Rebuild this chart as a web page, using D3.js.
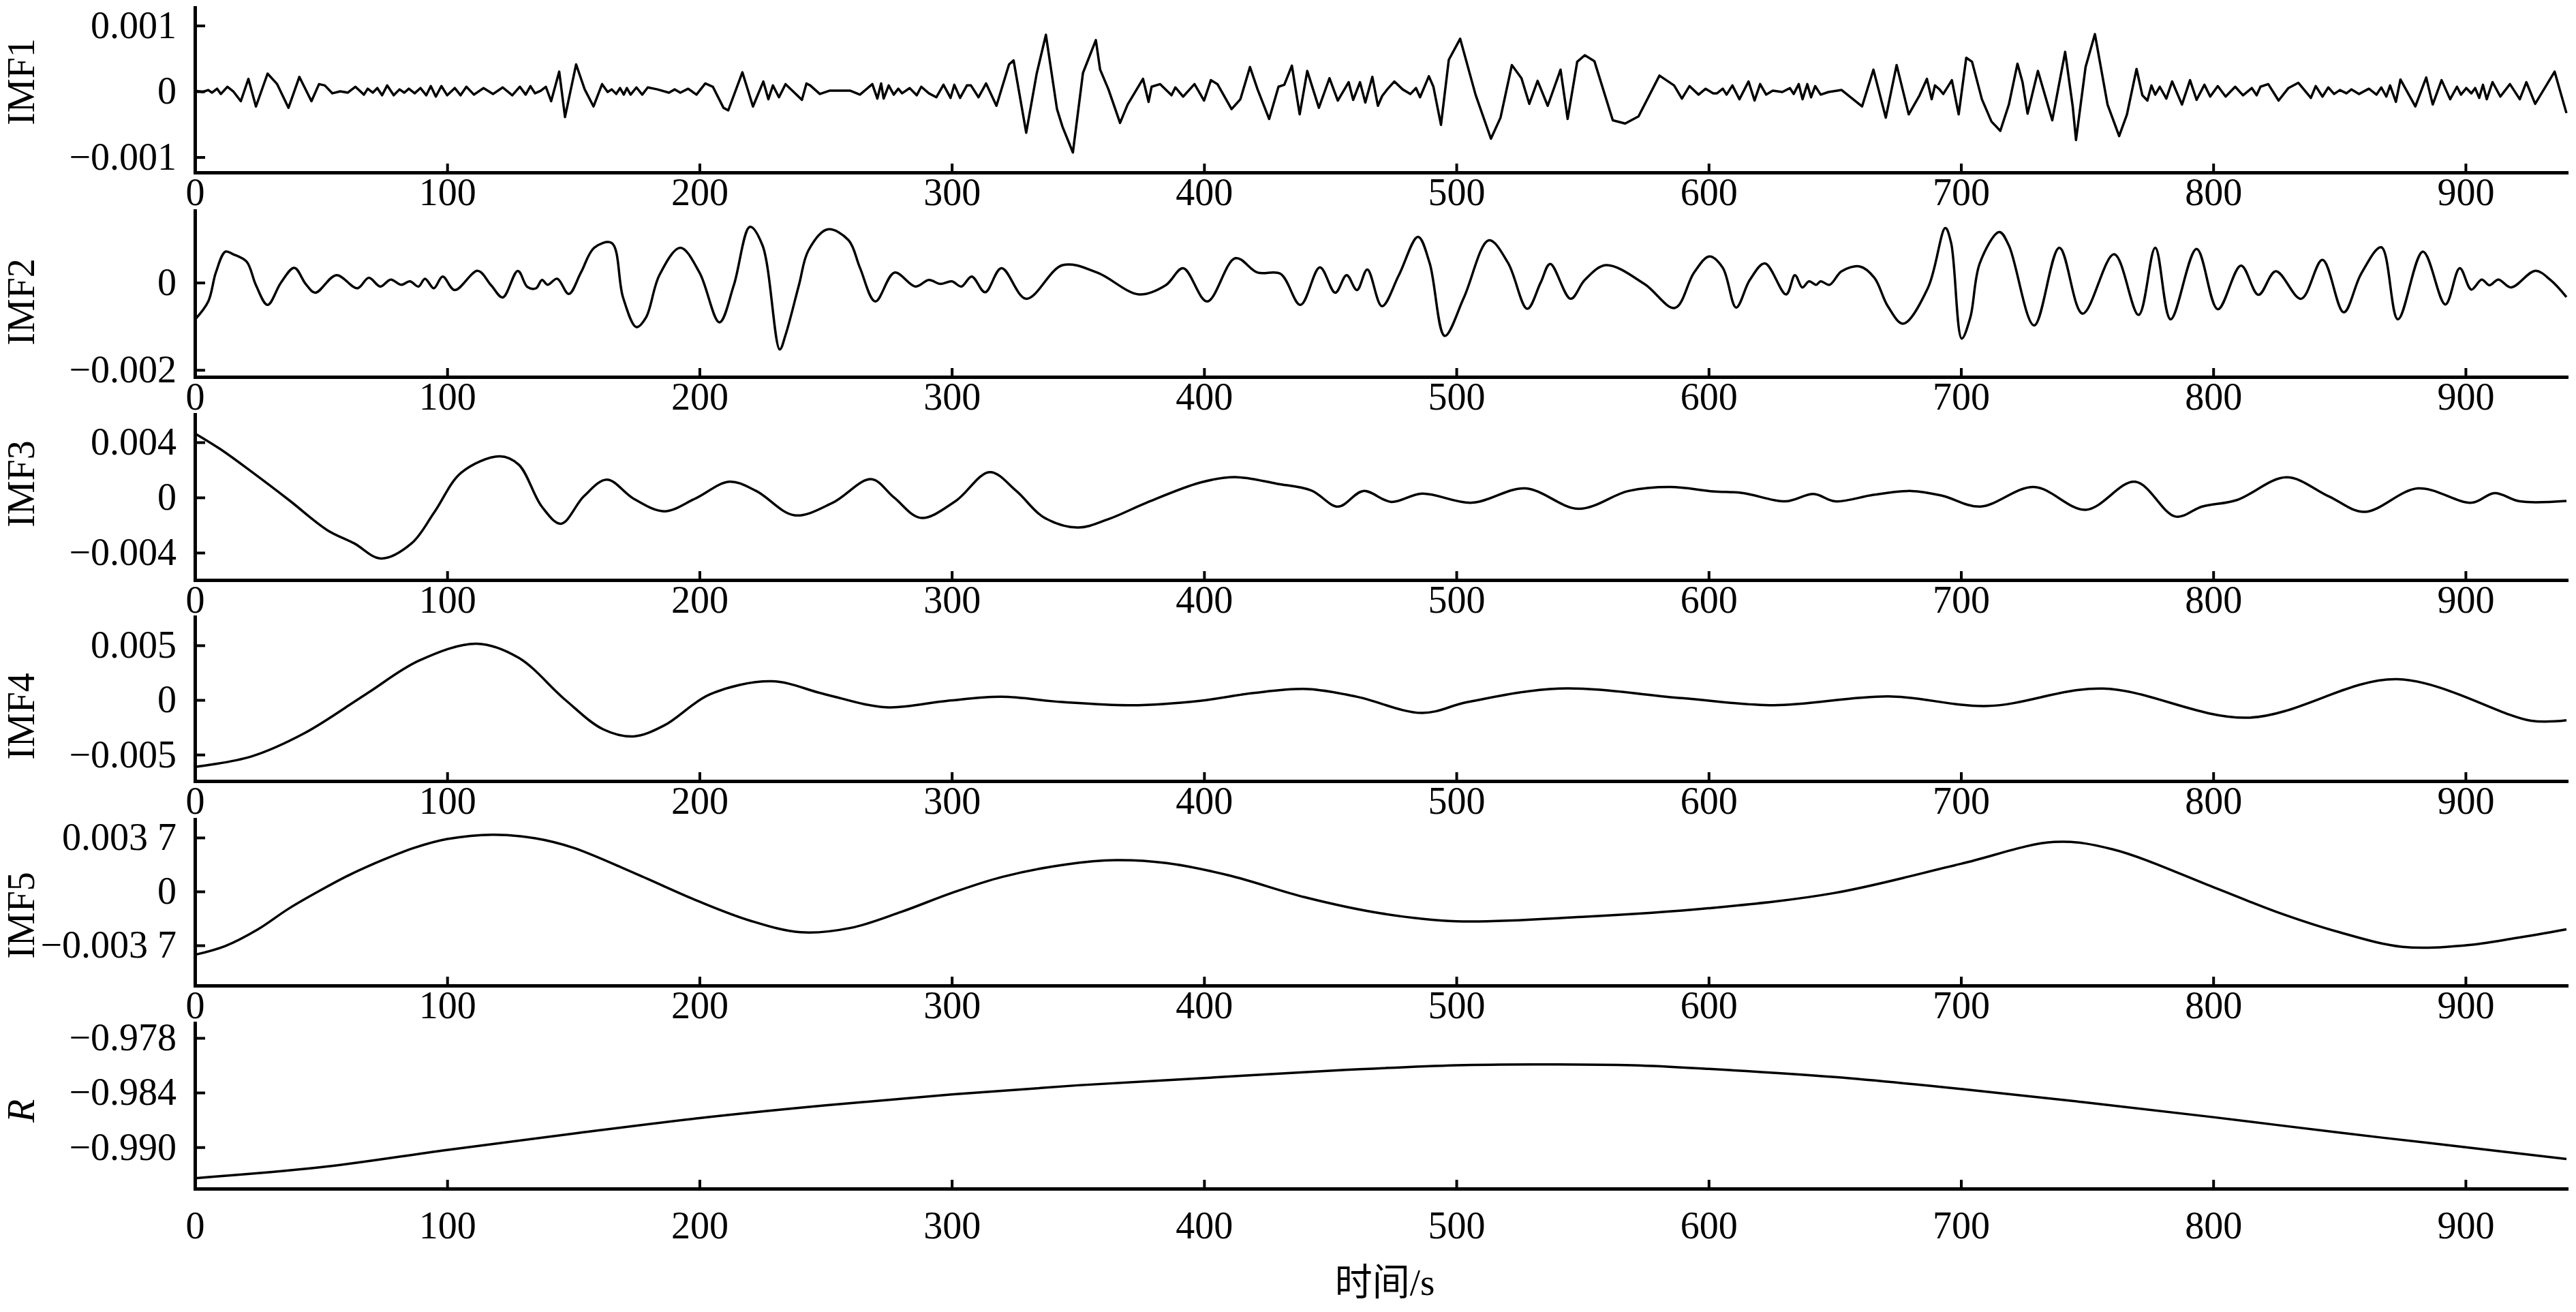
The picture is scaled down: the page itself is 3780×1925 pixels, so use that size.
<!DOCTYPE html>
<html>
<head>
<meta charset="utf-8">
<script src="https://cdn.jsdelivr.net/npm/d3@7"></script>
<style>
  body { margin: 0; background: #fff; }
  svg { display: block; }
</style>
</head>
<body>
<div id="chart"></div>
<script>
// time axis
var timeTicks = [0, 100, 200, 300, 400, 500, 600, 700, 800, 900];
var timeMax = 940;

// IMF values are in units of 0.001
var imf1 = [[0,0.01],[3,-0.01],[5.3,0.02],[6.8,-0.02],[8.8,0.04],[10.3,-0.04],[12.9,0.07],[15.2,0],[18.2,-0.15],[21.2,0.19],[24.2,-0.23],[28.8,0.27],[32.6,0.11],[37.1,-0.25],[41.4,0.22],[46.2,-0.15],[49.2,0.11],[51.5,0.09],[54.5,-0.03],[57.6,0],[60.6,-0.02],[63.6,0.07],[67,-0.05],[68.5,0.04],[70.5,-0.02],[72.3,0.05],[74.2,-0.06],[76.2,0.09],[78.8,-0.06],[81.1,0.03],[83,-0.02],[84.8,0.04],[87.1,-0.03],[89.4,0.05],[91.7,-0.06],[93.5,0.08],[95.5,-0.08],[97.7,0.08],[100,-0.06],[103,0.05],[105.3,-0.06],[107.6,0.07],[110.6,-0.05],[114.4,0.05],[118.2,-0.04],[122,0.06],[125.8,-0.06],[128.8,0.07],[131.1,-0.05],[133,0.08],[134.8,-0.03],[137.1,0.01],[139.1,0.07],[141.2,-0.15],[144.4,0.30],[146.7,-0.39],[151.1,0.41],[154.5,0.03],[158,-0.23],[161.4,0.11],[163.6,-0.01],[165.2,0.03],[167,-0.04],[168.5,0.05],[170,-0.05],[171.2,0.05],[172.7,-0.05],[175,0.06],[177.3,-0.05],[179.5,0.06],[183.3,0.03],[187.9,-0.02],[190.2,0.03],[192.4,-0.02],[195.5,0.04],[198.8,-0.05],[202.3,0.12],[205.3,0.07],[209.5,-0.25],[211.4,-0.29],[217,0.29],[221.2,-0.23],[225.3,0.15],[227.3,-0.12],[229.1,0.09],[231.5,-0.09],[234.1,0.11],
  [240.6,-0.13],[242.4,0.12],[243.9,0.09],[247.7,-0.04],[251.5,0.01],[259.8,0.01],[263.6,-0.05],[268.5,0.11],[270.5,-0.11],[272,0.12],[273,-0.11],[275,0.09],[277,-0.05],[278.8,0.04],[280.3,-0.03],[283.3,0.05],[286.1,-0.06],[287.9,0.07],[290.9,-0.03],[293.9,-0.09],[296.7,0.10],[299.5,-0.10],[301,0.10],[303.3,-0.10],[306,0.09],[307.6,0.09],[310.6,-0.09],[313.6,0.12],[317.7,-0.22],[322.7,0.41],[324.5,0.47],[329.5,-0.63],[333.6,0.26],[337.3,0.86],[341.7,-0.27],[343.9,-0.54],[348,-0.93],[352,0.28],[357.1,0.78],[358.8,0.33],[362.1,0.03],[366.7,-0.48],[369.7,-0.20],[375.8,0.19],[378,-0.16],[379.2,0.07],[382.6,0.11],[387.1,-0.06],[388.6,0.06],[391.7,-0.08],[396.2,0.11],[400,-0.14],[402.7,0.17],[405.3,0.11],[410.9,-0.27],[414.4,-0.12],[418.2,0.37],[421.2,0.03],[425.8,-0.42],[429.5,0.07],[431.8,0.10],[434.8,0.39],[437.9,-0.35],[440.9,0.31],[445.5,-0.25],[449.7,0.20],[453,-0.14],[457.3,0.14],[459.1,-0.13],[461.8,0.14],[463.9,-0.17],[466.7,0.22],[468.9,-0.22],
  [470.6,-0.07],[472.6,0.03],[475.4,0.15],[478.7,0.03],[481.8,-0.04],[484,0.05],[485.6,-0.09],[489.1,0.23],[490.9,0.07],[493.9,-0.51],[497,0.48],[501.5,0.80],[507.6,-0.05],[513.7,-0.72],[517.5,-0.40],[522,0.40],[525.8,0.20],[528.9,-0.19],[532.2,0.16],[536.2,-0.22],[541.3,0.33],[544.1,-0.42],[547.9,0.45],[550.9,0.55],[554.7,0.46],[562,-0.44],[566.9,-0.49],[572.2,-0.38],[580.5,0.24],[586.3,0.09],[589.4,-0.11],[592.4,0.08],[596,-0.05],[598.8,0.04],[601.8,-0.03],[603.3,-0.03],[605.6,0.04],[607.1,-0.05],[609.4,0.09],[612.2,-0.12],[615.8,0.15],[618.2,-0.14],[620.4,0.11],[622.8,-0.05],[625.4,0.01],[629.2,-0.01],[632.2,0.05],[633.7,-0.04],[635.7,0.11],[637.2,-0.12],[639.1,0.11],[640.6,-0.09],[642.2,0.08],[644.4,-0.05],[647.5,-0.01],[652.7,0.02],[660.8,-0.23],[665.3,0.33],[670.2,-0.40],[674.5,0.40],[679.3,-0.35],[683.6,-0.06],[686.5,0.19],[688.4,-0.12],[689.7,0.09],[691.5,0.03],[693,-0.04],[696.4,0.17],[699.1,-0.35],[702.1,0.51],
  [704.4,0.45],[708.3,-0.12],[712.1,-0.46],[715.6,-0.60],[719,-0.20],[722.4,0.42],[724.4,0.14],[726.4,-0.34],[730.5,0.31],[736.2,-0.44],[741.3,0.60],[744.3,-0.23],[745.6,-0.74],[749.4,0.37],[753.1,0.87],[758.1,-0.20],[762.7,-0.68],[765.8,-0.35],[769.6,0.34],[771.9,-0.06],[773.9,-0.14],[775.5,0.09],[777,-0.05],[778.8,0.07],[781.4,-0.11],[783.7,0.15],[787.6,-0.20],[790.8,0.17],[793.4,-0.13],[796.5,0.10],[798.8,-0.08],[801.8,0.08],[804.9,-0.08],[808.7,0.07],[811.8,-0.06],[815.3,0.05],[817.2,-0.06],[818.7,0.07],[821.8,0.11],[825.9,-0.14],[829.8,0.05],[833.7,0.13],[838.7,-0.10],[840.6,0.08],[843.3,-0.08],[845.6,0.06],[847.9,-0.04],[850.2,0.02],[852.8,-0.03],[854.8,0.03],[857.8,-0.04],[861.7,0.04],[864.7,-0.05],[866.6,0.06],[868.6,-0.08],[870.1,0.09],[872.4,-0.16],[874.2,0.18],[880.1,-0.23],[884.4,0.21],[887,-0.20],[890.5,0.17],[893.9,-0.12],[896.6,0.07],[898.2,-0.05],[900.3,0.05],[902.3,-0.03],[903.8,0.05],[905.4,-0.10],[906.9,0.10],[908.4,-0.12],[910.7,0.14],[913.8,-0.08],[917.6,0.11],[921.5,-0.12],[924.1,0.14],[927.6,-0.19],[935.3,0.30],[937.6,-0.01],[940,-0.33]];

var imf2 = [[0,-0.85],[5.3,-0.43],[8.3,0.23],[12.1,0.71],[15.2,0.65],[20.5,0.48],[24.2,-0.06],[28.8,-0.51],[34.1,0],[39.4,0.34],[43.9,-0.03],[47.7,-0.23],[56.1,0.17],[64.4,-0.13],[68.9,0.11],[73.5,-0.09],[77.6,0.07],[81.8,-0.05],[85.2,0.03],[88.6,-0.09],[91.2,0.09],[94.7,-0.13],[98.2,0.14],[103,-0.17],[112.1,0.27],[117.4,-0.06],[122,-0.34],[128,0.27],[131.8,-0.10],[135.2,-0.13],[137.6,0.06],[139.8,-0.05],[143.6,0.09],[148.2,-0.26],[153,0.23],[158.3,0.80],[165.2,0.91],[169.7,-0.34],[175,-1.02],[178.8,-0.80],[184.1,0.17],[192.4,0.80],[200,0.23],[207.9,-0.91],[213.6,-0.06],[220,1.28],[225,0.85],[231.8,-1.53],
  [234.1,-1.2],[239.4,-0.06],[243.2,0.74],[250.8,1.22],[259.1,0.97],[263.6,0.34],[269.7,-0.43],[277.3,0.23],[285.6,-0.09],[290.9,0.06],[295.5,-0.03],[300,0.03],[303.8,-0.09],[307.9,0.14],[313.2,-0.22],[319.7,0.33],[329.5,-0.37],[343.9,0.40],[357.6,0.23],[374.2,-0.27],[384.8,-0.06],[391.7,0.33],[401.2,-0.43],[412.4,0.56],[421.2,0.23],[430.3,0.20],[438.2,-0.51],[445.9,0.35],[452,-0.23],[456.5,0.17],[460.6,-0.17],[464.7,0.30],[470.5,-0.54],
  [477.2,0.17],[484.8,1.05],[489.4,0.45],[495.4,-1.22],[503,-0.34],[512.9,0.97],[520.5,0.45],[528.1,-0.60],[533.4,0],[537.2,0.43],[545.3,-0.37],[550.9,0.06],[559.3,0.40],[574.5,-0.03],[586.6,-0.58],[594.2,0.23],[600.3,0.60],[605.6,0.34],[610.9,-0.57],[616.3,0.06],[622.3,0.44],[630.7,-0.27],[634.2,0.17],[637.1,-0.11],[639.8,0.03],[642.6,-0.05],[644.4,0.03],[647.9,-0.05],[652.7,0.26],[659.9,0.37],[665.7,0.11],[671,-0.54],[677.1,-0.94],[687,-0.11],[693.8,1.25],[696.1,0.91],[700.3,-1.28],
  [703.7,-0.80],[707.5,0.45],[715.2,1.16],[719,0.85],[729,-0.98],[739,0.80],[748.2,-0.71],[760.7,0.65],[770.4,-0.74],[777,0.80],[783.1,-0.84],[793.4,0.77],[801.8,-0.61],[811,0.39],[817.9,-0.28],[824.8,0.26],[834.8,-0.37],[843.3,0.52],[851.7,-0.68],[858.6,0.20],[866.6,0.81],[873.2,-0.84],[883.1,0.71],[892,-0.50],[897.7,0.33],[902.3,-0.16],[906.4,0.07],[909.5,-0.06],[913,0.07],[918.1,-0.11],[927.6,0.27],[933.7,0.06],[940,-0.33]];

var imf3 = [[0,4.64],[10,3.51],[22.2,1.90],[37.3,-0.19],[52.5,-2.37],[63.1,-3.32],[73.7,-4.42],[85.9,-3.32],[95,-1.04],[105.6,1.80],[120.8,2.98],[128.4,2.37],[137.5,-0.66],[145.1,-1.90],[154.2,0.09],[163.3,1.29],[173.9,-0.09],[186,-1.00],[198.2,-0.09],[211.8,1.14],[222.5,0.47],[237.6,-1.29],[252.8,-0.38],[268,1.33],[277.1,0],[287.7,-1.48],[301.4,-0.28],[315,1.84],[325.6,0.47],[336.3,-1.42],[349.9,-2.18],[362.1,-1.57],[377.2,-0.38],[398.5,1.08],[412.2,1.48],[428.8,1.00],[442.5,0.51],[453.1,-0.66],[463.1,0.47],[474.2,-0.32],[486.4,0.28],[506.1,-0.38],[527.3,0.66],[548.5,-0.82],[568.2,0.47],[584.9,0.76],[601.8,0.44],[613.7,0.32],[630.4,-0.28],[641.6,0.25],[650.1,-0.28],[665.3,0.19],[680.4,0.47],[692.5,0.13],[707.7,-0.66],[728.9,0.76],[749.5,-0.89],[769,1.14],[785,-1.38],[795.6,-0.66],[809.3,-0.19],[829,1.46],[845.7,0.09],[859.9,-1.04],[881.1,0.66],[902.4,-0.38],[911.5,0.32],[921.5,-0.28],[940,-0.25]];

var imf4 = [[0,-6.13],[22.2,-5.18],[43.4,-3.04],[67.7,0.52],[88.9,3.61],[111.7,5.15],[128.4,3.85],[146.6,0.05],[161.8,-2.68],[173.9,-3.33],[186,-2.33],[204.2,0.52],[228.5,1.71],[249.8,0.52],[274,-0.67],[298.3,-0.07],[319.6,0.29],[343.9,-0.19],[371.2,-0.48],[398.5,-0.07],[419.7,0.64],[441,1.00],[460.7,0.29],[486.4,-1.19],[504.5,-0.19],[540.9,1.05],[589.4,0.17],[625.8,-0.48],[671.3,0.33],[710.7,-0.55],[756.2,1.05],[813.8,-1.62],[872.9,1.90],[926,-1.90],[940,-1.85]];

var imf5 = [[0,-4.35],[12,-3.75],[25,-2.6],[37,-1.2],[50,0.1],[62,1.2],[75,2.2],[87,3.0],[100,3.6],[118,3.9],[135,3.65],[150,3.0],[175,1.2],[200,-0.7],[220,-2.0],[240,-2.8],[260,-2.5],[280,-1.4],[300,-0.1],[320,1.0],[345,1.85],[365,2.15],[385,1.95],[410,1.1],[440,-0.4],[470,-1.5],[500,-2.05],[550,-1.75],[600,-1.15],[650,-0.1],[700,1.9],[737,3.4],[760,2.9],[800,0.3],[825,-1.4],[850,-2.8],[875,-3.8],[900,-3.7],[920,-3.2],[940,-2.6]];

// residual, actual units
var residual = [[0,-0.9934],[50,-0.9922],[100,-0.9903],[150,-0.9885],[200,-0.9868],[250,-0.9854],[300,-0.9842],[350,-0.9832],[400,-0.9824],[450,-0.9816],[500,-0.9810],[530,-0.9809],[570,-0.9810],[600,-0.9814],[650,-0.9823],[700,-0.9836],[750,-0.9851],[800,-0.9867],[850,-0.9884],[900,-0.9900],[940,-0.9913]];

// y tick values and their printed labels
var imf1Ticks = [-1, 0, 1],          imf1Labels = ["\u22120.001", "0", "0.001"];
var imf2Ticks = [-2, 0],             imf2Labels = ["\u22120.002", "0"];
var imf3Ticks = [-4, 0, 4],          imf3Labels = ["\u22120.004", "0", "0.004"];
var imf4Ticks = [-5, 0, 5],          imf4Labels = ["\u22120.005", "0", "0.005"];
var imf5Ticks = [-3.7, 0, 3.7],      imf5Labels = ["\u22120.003 7", "0", "0.003 7"];
var resTicks = [-0.990, -0.984, -0.978], resLabels = ["\u22120.990", "\u22120.984", "\u22120.978"];

// layout (pixels) for each stacked panel
var panels = [
  {name: "IMF1", data: imf1, ticks: imf1Ticks, labels: imf1Labels, domain: [-1.233, 1.275], top: 11, bottom: 253, labelY: 120, smooth: false, pad: 8},
  {name: "IMF2", data: imf2, ticks: imf2Ticks, labels: imf2Labels, domain: [-2.16, 1.65], top: 309, bottom: 553, labelY: 443, smooth: true, pad: 8},
  {name: "IMF3", data: imf3, ticks: imf3Ticks, labels: imf3Labels, domain: [-5.98, 6.02], top: 608, bottom: 851, labelY: 710, smooth: true, pad: 8},
  {name: "IMF4", data: imf4, ticks: imf4Ticks, labels: imf4Labels, domain: [-7.42, 7.61], top: 905, bottom: 1146, labelY: 1051, smooth: true, pad: 8},
  {name: "IMF5", data: imf5, ticks: imf5Ticks, labels: imf5Labels, domain: [-6.46, 4.96], top: 1202, bottom: 1446, labelY: 1343, smooth: true, pad: 8},
  {name: "R", data: residual, ticks: resTicks, labels: resLabels, domain: [-0.99455, -0.97636], top: 1501, bottom: 1744, labelY: 1630, smooth: true, pad: 33, italic: true}
];

var W = 3780, H = 1925;
var left = 286, right = 3766;
var font = "'Liberation Serif', 'Times New Roman', serif";

var svg = d3.select("#chart").append("svg")
    .attr("width", W)
    .attr("height", H)
    .style("background", "#fff");

var x = d3.scaleLinear().domain([0, timeMax]).range([left, right]);

panels.forEach(function(p) {
  var y = d3.scaleLinear().domain(p.domain).range([p.bottom, p.top]);

  // curve
  var line = d3.line()
      .x(function(d) { return x(d[0]); })
      .y(function(d) { return y(d[1]); })
      .curve(p.smooth ? d3.curveCatmullRom.alpha(0.5) : d3.curveLinear);

  svg.append("path")
      .datum(p.data)
      .attr("fill", "none")
      .attr("stroke", "#000")
      .attr("stroke-width", 3.5)
      .attr("stroke-linejoin", "round")
      .attr("d", line);

  // x axis
  var gx = svg.append("g")
      .attr("transform", "translate(0," + p.bottom + ")")
      .call(d3.axisBottom(x).tickValues(timeTicks).tickFormat(d3.format("d"))
        .tickSizeInner(-13).tickSizeOuter(0).tickPadding(p.pad));

  // y axis
  var gy = svg.append("g")
      .attr("transform", "translate(" + left + ",0)")
      .call(d3.axisLeft(y).tickValues(p.ticks)
        .tickFormat(function(d, i) { return p.labels[i]; })
        .tickSizeInner(-15).tickSizeOuter(0).tickPadding(27));

  [gx, gy].forEach(function(g) {
    g.attr("font-family", font).attr("font-size", 56);
    g.select(".domain").attr("stroke-width", 5).attr("stroke-linecap", "square");
    g.selectAll(".tick line").attr("stroke-width", 4);
    g.selectAll(".tick text").attr("fill", "#000");
  });

  // panel label
  svg.append("text")
      .attr("transform", "translate(31," + p.labelY + ") rotate(-90)")
      .attr("text-anchor", "middle")
      .attr("dominant-baseline", "central")
      .attr("font-family", font)
      .attr("font-size", 56)
      .attr("font-style", p.italic ? "italic" : "normal")
      .text(p.name);
});

// x axis title
svg.append("text")
    .attr("x", 2032)
    .attr("y", 1881)
    .attr("text-anchor", "middle")
    .attr("dominant-baseline", "central")
    .attr("font-family", "'Liberation Serif', 'Noto Sans CJK SC', serif")
    .attr("font-size", 55)
    .text("时间/s");
</script>
</body>
</html>
